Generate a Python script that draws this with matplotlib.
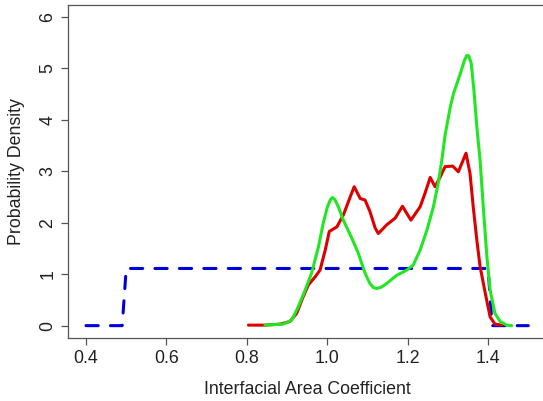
import matplotlib
matplotlib.use("Agg")
import matplotlib.pyplot as plt

# Uniform density (blue dashed)
unif_x = [0.40, 0.49, 0.50, 1.40, 1.41, 1.50]
unif_y = [0.0, 0.0, 1.111, 1.111, 0.0, 0.0]

# Red density
red_x = [0.804, 0.845, 0.883, 0.907, 0.924, 0.940, 0.953, 0.970, 0.982, 0.995,
         1.005, 1.024, 1.040, 1.057, 1.067, 1.082, 1.094, 1.106, 1.119, 1.127,
         1.148, 1.169, 1.187, 1.208, 1.231, 1.243, 1.256, 1.268, 1.281, 1.293,
         1.312, 1.326, 1.345, 1.355, 1.363, 1.372, 1.380, 1.393, 1.405, 1.417,
         1.434]
red_y = [0.01, 0.01, 0.03, 0.08, 0.24, 0.56, 0.79, 0.95, 1.08, 1.47,
         1.83, 1.92, 2.15, 2.50, 2.70, 2.47, 2.44, 2.22, 1.90, 1.79,
         1.96, 2.09, 2.32, 2.05, 2.31, 2.57, 2.88, 2.70, 2.89, 3.09,
         3.10, 2.99, 3.35, 2.96, 2.31, 1.66, 1.15, 0.63, 0.17, 0.03,
         0.01]

# Green density
green_x = [0.845, 0.891, 0.912, 0.928, 0.945, 0.961, 0.978, 0.990, 1.000, 1.008,
           1.013, 1.019, 1.028, 1.040, 1.061, 1.077, 1.094, 1.106, 1.115, 1.123,
           1.135, 1.148, 1.173, 1.198, 1.214, 1.231, 1.248, 1.264, 1.276, 1.285,
           1.293, 1.306, 1.314, 1.331, 1.341, 1.347, 1.352, 1.358, 1.365, 1.372,
           1.380, 1.388, 1.397, 1.405, 1.417, 1.430, 1.446, 1.459]
green_y = [0.01, 0.03, 0.11, 0.37, 0.69, 1.02, 1.53, 1.99, 2.30, 2.45,
           2.49, 2.45, 2.30, 2.05, 1.70, 1.41, 1.02, 0.82, 0.74, 0.72,
           0.75, 0.82, 0.98, 1.08, 1.18, 1.47, 1.86, 2.31, 2.77, 3.22,
           3.70, 4.25, 4.51, 4.90, 5.15, 5.25, 5.24, 5.10, 4.55, 3.86,
           3.22, 2.31, 1.34, 0.69, 0.24, 0.08, 0.01, 0.0]

xticks = [0.4, 0.6, 0.8, 1.0, 1.2, 1.4]
xtick_labels = ["0.4", "0.6", "0.8", "1.0", "1.2", "1.4"]
yticks = [0, 1, 2, 3, 4, 5, 6]
ytick_labels = ["0", "1", "2", "3", "4", "5", "6"]

plt.rcParams['font.family'] = ['Liberation Sans', 'DejaVu Sans']

W, H = 543, 401
fig = plt.figure(figsize=(W / 100, H / 100), dpi=100)
ax = fig.add_axes([68 / W, (H - 338) / H, (546 - 68) / W, (338 - 4.5) / H])

lw = 2.2
ax.plot(unif_x, unif_y, color="#0000dd", lw=lw, dashes=(4, 4),
        dash_capstyle='round', solid_capstyle='round')
ax.plot(red_x, red_y, color="#dd0000", lw=lw, solid_joinstyle='round',
        solid_capstyle='round')
ax.plot(green_x, green_y, color="#22e622", lw=lw, solid_joinstyle='round',
        solid_capstyle='round')

ax.set_xlim(0.3552, 1.544)
ax.set_ylim(-0.24, 6.24)

ax.set_xticks(xticks)
ax.set_xticklabels(xtick_labels)
ax.set_yticks(yticks)
ax.set_yticklabels(ytick_labels, rotation=90, va='center')

for s in ['left', 'bottom', 'top']:
    ax.spines[s].set_color('#555555')
    ax.spines[s].set_linewidth(0.9)
ax.spines['right'].set_visible(False)

ax.tick_params(axis='both', length=5, width=0.9, color='#555555',
               labelsize=12.8, labelcolor='#222222', pad=3.5)

ax.set_xlabel("Interfacial Area Coefficient", fontsize=12.8, color='#222222',
              labelpad=10)
ax.set_ylabel("Probability Density", fontsize=12.8, color='#222222',
              labelpad=10)

fig.savefig("out.png", dpi=100)
